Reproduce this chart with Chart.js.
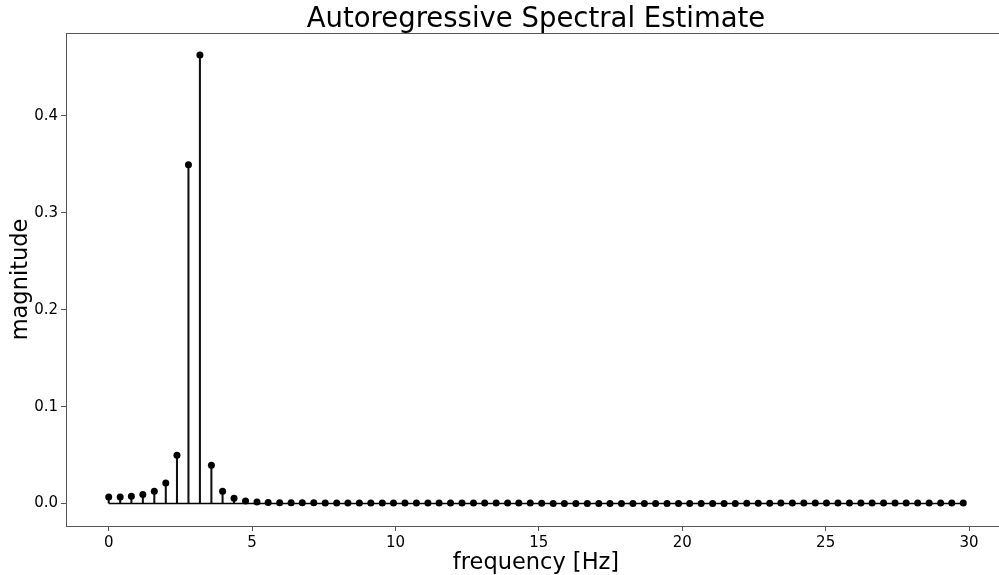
<!DOCTYPE html>
<html lang="en">
<head>
    <meta charset="UTF-8">
    <title>Autoregressive Spectral Estimate</title>
    <script src="https://cdn.jsdelivr.net/npm/chart.js"></script>
    <style>
        body {
            margin: 0;
            overflow: hidden;
            background: #fff;
        }

        /* canvas a bit wider than the window: the right spine falls off the edge */
        #chart-container {
            width: 1010px;
            height: 575px;
        }
    </style>
</head>
<body>

    <div id="chart-container">
        <canvas id="spectrumChart"></canvas>
    </div>

    <script>
        // frequency bins (Hz)
        const freqs = [
            0.00, 0.40, 0.79, 1.19, 1.59, 1.99, 2.38, 2.78, 3.18, 3.58,
            3.97, 4.37, 4.77, 5.17, 5.56, 5.96, 6.36, 6.75, 7.15, 7.55,
            7.95, 8.34, 8.74, 9.14, 9.54, 9.93, 10.33, 10.73, 11.13, 11.52,
            11.92, 12.32, 12.72, 13.11, 13.51, 13.91, 14.30, 14.70, 15.10, 15.50,
            15.89, 16.29, 16.69, 17.09, 17.48, 17.88, 18.28, 18.68, 19.07, 19.47,
            19.87, 20.26, 20.66, 21.06, 21.46, 21.85, 22.25, 22.65, 23.05, 23.44,
            23.84, 24.24, 24.64, 25.03, 25.43, 25.83, 26.23, 26.62, 27.02, 27.42,
            27.81, 28.21, 28.61, 29.01, 29.40, 29.80
        ];

        // spectral magnitude at each bin
        const magnitude = [
            0.0069, 0.0068, 0.0075, 0.0093, 0.0127, 0.0212, 0.0498, 0.3495, 0.4625, 0.0395,
            0.0127, 0.0054, 0.0028, 0.0017, 0.0011, 0.0009, 0.0008, 0.0008, 0.0008, 0.0007,
            0.0007, 0.0007, 0.0007, 0.0007, 0.0006, 0.0006, 0.0006, 0.0006, 0.0006, 0.0006,
            0.0006, 0.0006, 0.0006, 0.0006, 0.0005, 0.0005, 0.0005, 0.0005, 0.0003, 0.0002,
            0.0002, 0.0002, 0.0002, 0.0002, 0.0002, 0.0002, 0.0002, 0.0002, 0.0002, 0.0002,
            0.0002, 0.0002, 0.0002, 0.0002, 0.0002, 0.0002, 0.0003, 0.0003, 0.0004, 0.0005,
            0.0005, 0.0005, 0.0005, 0.0005, 0.0005, 0.0005, 0.0005, 0.0005, 0.0005, 0.0005,
            0.0005, 0.0005, 0.0005, 0.0005, 0.0005, 0.0005
        ];

        const yTicks = [0.0, 0.1, 0.2, 0.3, 0.4];
        const xTicks = [0, 5, 10, 15, 20, 25, 30];

        const points = freqs.map((f, i) => ({ x: f, y: magnitude[i] }));
        const baseline = [{ x: freqs[0], y: 0 }, { x: freqs[freqs.length - 1], y: 0 }];

        const FONT = "'DejaVu Sans', sans-serif";
        const SPINE = '#555';

        // title over the plot area, plus the top spine
        const frame = {
            id: 'frame',
            afterDraw(chart) {
                const { ctx, chartArea } = chart;
                ctx.save();
                ctx.strokeStyle = SPINE;
                ctx.lineWidth = 1;
                ctx.beginPath();
                ctx.moveTo(chartArea.left, chartArea.top + 0.5);
                ctx.lineTo(chartArea.right, chartArea.top + 0.5);
                ctx.stroke();

                ctx.fillStyle = '#000';
                ctx.font = '27.5px ' + FONT;
                ctx.textAlign = 'center';
                ctx.textBaseline = 'alphabetic';
                ctx.fillText('Autoregressive Spectral Estimate', (chartArea.left + chartArea.right) / 2, 27);
                ctx.restore();
            }
        };

        const config = {
            data: {
                datasets: [
                    {
                        // markers
                        type: 'line',
                        data: points,
                        showLine: false,
                        pointRadius: 3.5,
                        pointBackgroundColor: '#000',
                        pointBorderColor: '#000',
                        pointBorderWidth: 0,
                        order: 0
                    },
                    {
                        // baseline
                        type: 'line',
                        data: baseline,
                        borderColor: '#000',
                        borderWidth: 1.5,
                        pointRadius: 0,
                        order: 1
                    },
                    {
                        // stems
                        type: 'bar',
                        data: points,
                        backgroundColor: '#111',
                        barThickness: 1.4,
                        order: 2
                    }
                ]
            },
            options: {
                responsive: true,
                maintainAspectRatio: false,
                animation: false,
                layout: {
                    padding: { top: 33, right: 2, left: 0, bottom: 0 }
                },
                plugins: {
                    legend: { display: false },
                    title: { display: false },
                    tooltip: { enabled: false }
                },
                scales: {
                    x: {
                        type: 'linear',
                        min: -1.49,
                        max: 31.29,
                        offset: false,
                        afterFit: (scale) => { scale.height = 49; },
                        afterBuildTicks: (scale) => {
                            scale.ticks = xTicks.map(v => ({ value: v }));
                        },
                        border: { color: SPINE, width: 1 },
                        grid: { drawOnChartArea: false, offset: false, color: SPINE, tickLength: 5 },
                        ticks: {
                            padding: 3,
                            color: '#000',
                            font: { family: FONT, size: 15 },
                            callback: (v) => String(v)
                        },
                        title: {
                            display: true,
                            text: 'frequency [Hz]',
                            color: '#000',
                            font: { family: FONT, size: 22.5 },
                            padding: { top: 0, bottom: -2 }
                        }
                    },
                    y: {
                        min: -0.0231,
                        max: 0.4853,
                        afterFit: (scale) => { scale.width = 66; },
                        afterBuildTicks: (scale) => {
                            scale.ticks = yTicks.map(v => ({ value: v }));
                        },
                        border: { color: SPINE, width: 1 },
                        grid: { drawOnChartArea: false, color: SPINE, tickLength: 5 },
                        ticks: {
                            padding: 3,
                            color: '#000',
                            font: { family: FONT, size: 15 },
                            callback: (v) => v.toFixed(1)
                        },
                        title: {
                            display: true,
                            text: 'magnitude',
                            color: '#000',
                            font: { family: FONT, size: 22.5 },
                            padding: { top: 8, bottom: 0 }
                        }
                    }
                }
            },
            plugins: [frame]
        };

        const spectrumChart = new Chart(document.getElementById('spectrumChart'), config);
    </script>
</body>
</html>
